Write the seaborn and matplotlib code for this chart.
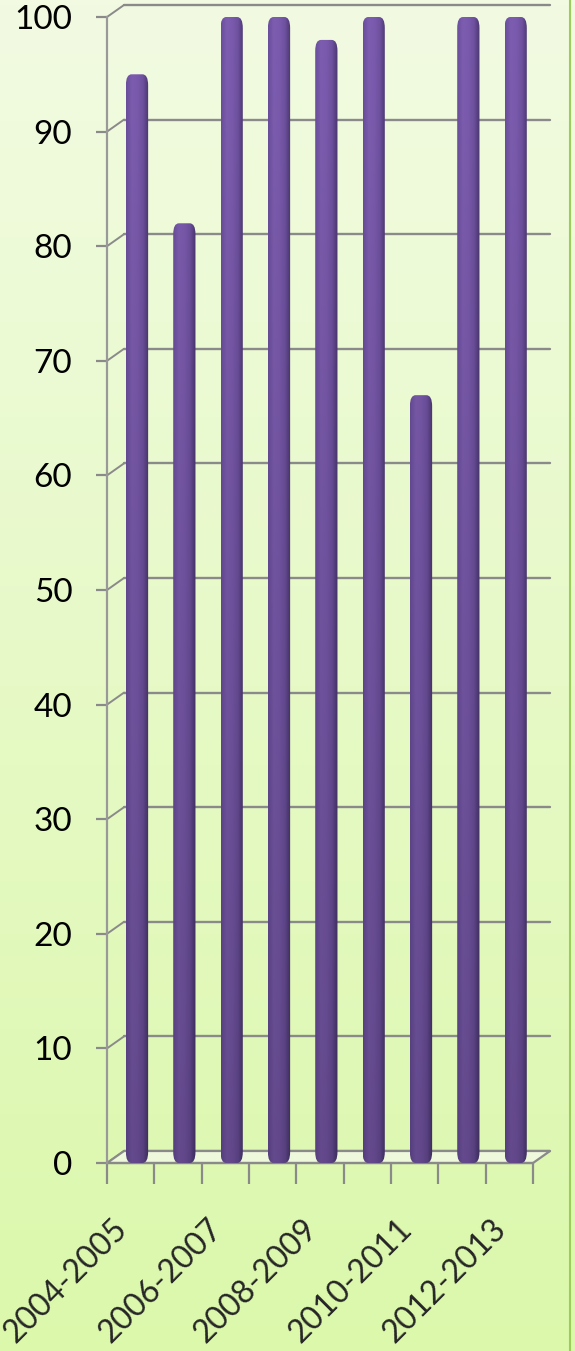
import numpy as np
import matplotlib
matplotlib.use("Agg")
import matplotlib.pyplot as plt
import matplotlib.transforms as mtransforms
from matplotlib.patches import Polygon, FancyBboxPatch
from matplotlib.colors import LinearSegmentedColormap
import seaborn as sns

# data
seasons = ["2004-2005", "2005-2006", "2006-2007", "2007-2008", "2008-2009",
           "2009-2010", "2010-2011", "2011-2012", "2012-2013"]
values = [95, 82, 100, 100, 98, 100, 67, 100, 100]
yticks = [0, 10, 20, 30, 40, 50, 60, 70, 80, 90, 100]

sns.set_style("white")
plt.rcParams["font.family"] = ["Lato", "DejaVu Sans"]

fig = plt.figure(figsize=(5.75, 13.51), dpi=100)

# background gradient
bg = fig.add_axes([0, 0, 1, 1], zorder=-10)
grad = np.linspace(0, 1, 256).reshape(-1, 1)
bg_cmap = LinearSegmentedColormap.from_list("bg", ["#f2fbe2", "#dbf8ab"])
bg.imshow(grad, cmap=bg_cmap, aspect="auto", extent=[0, 1, 0, 1])
bg.axvline(0.991, color="#9ccd5c", lw=1.5)
bg.axis("off")

W, H = 575, 1351
ax = fig.add_axes([107 / W, (H - 1163) / H, 426 / W, 1146 / H])
ax.patch.set_alpha(0)

sns.barplot(x=seasons, y=values, color="#7454a6", width=0.47, ax=ax,
            saturation=1, edgecolor="none", zorder=3)

xl, xr = -0.634, 8.366
ax.set_xlim(xl, xr)
ax.set_ylim(0, 100)

# 3d-ish depth offsets in data units
dx, dy = 17 / 47.3, 12 / 11.46
line_c = "#8a8a8a"

# back wall gridlines
for v in yticks:
    ax.plot([xl + dx, xr + dx], [v + dy, v + dy], color=line_c, lw=1.7,
            zorder=1, clip_on=False)
    ax.plot([xl, xl + dx], [v, v + dy], color=line_c, lw=1.4,
            zorder=1, clip_on=False)

# floor
floor = Polygon([(xl, 0), (xr, 0), (xr + dx, dy), (xl + dx, dy)],
                closed=True, facecolor="#eef9dc", edgecolor=line_c, lw=1.6,
                zorder=2, clip_on=False)
ax.add_patch(floor)

# shaded bars (cylinder look), rounded top
bar_cmap = LinearSegmentedColormap.from_list(
    "bar", ["#6a4e9c", "#7d5db0", "#7a5aad", "#6e519f", "#4a3670"])
bars = [p for p in ax.patches if p is not floor]
for p in bars:
    x0, w, h = p.get_x(), p.get_width(), p.get_height()
    p.set_visible(False)
    shape = FancyBboxPatch((x0, 0), w, h,
                           boxstyle="round,pad=0,rounding_size=0.12",
                           mutation_aspect=8, facecolor="none",
                           edgecolor="none", zorder=3)
    ax.add_patch(shape)
    prof = np.linspace(0, 1, 64).reshape(1, -1)
    ys = np.linspace(0, h, 128).reshape(-1, 1, 1)
    shade = 0.80 + 0.20 * ys / 100
    rgba = bar_cmap(np.repeat(prof, 128, axis=0))
    rgba[..., :3] *= shade
    im = ax.imshow(rgba, extent=[x0, x0 + w, 0, h], aspect="auto",
                   origin="lower", zorder=3, interpolation="bilinear")
    im.set_clip_path(shape)
ax.set_xlim(xl, xr)
ax.set_ylim(0, 100)
ax.set_aspect("auto")

# spines
for s in ["top", "right", "bottom"]:
    ax.spines[s].set_visible(False)
ax.spines["left"].set_color("#999999")
ax.spines["left"].set_linewidth(1.6)
ax.axhline(0, color=line_c, lw=1.6, zorder=2, clip_on=False)

ax.set_yticks(yticks)
ax.tick_params(axis="y", length=8, width=1.6, color=line_c, pad=17,
               labelsize=24, labelcolor="black", left=True)

ax.set_xticks(range(0, len(seasons), 2))
ax.set_xticklabels(seasons[::2], rotation=45, ha="right",
                   rotation_mode="anchor", va="center", fontsize=23)
ax.tick_params(axis="x", length=0, pad=44)
ax.set_xticks(np.arange(len(seasons) + 1) + xl, minor=True)
ax.tick_params(axis="x", which="minor", length=15, width=1.6, color=line_c,
               bottom=True)
off = mtransforms.ScaledTranslation(-0.14, 0, fig.dpi_scale_trans)
for lab in ax.get_xticklabels():
    lab.set_transform(lab.get_transform() + off)

ax.set_xlabel("")
ax.set_ylabel("")

fig.savefig("out.png", dpi=100)
